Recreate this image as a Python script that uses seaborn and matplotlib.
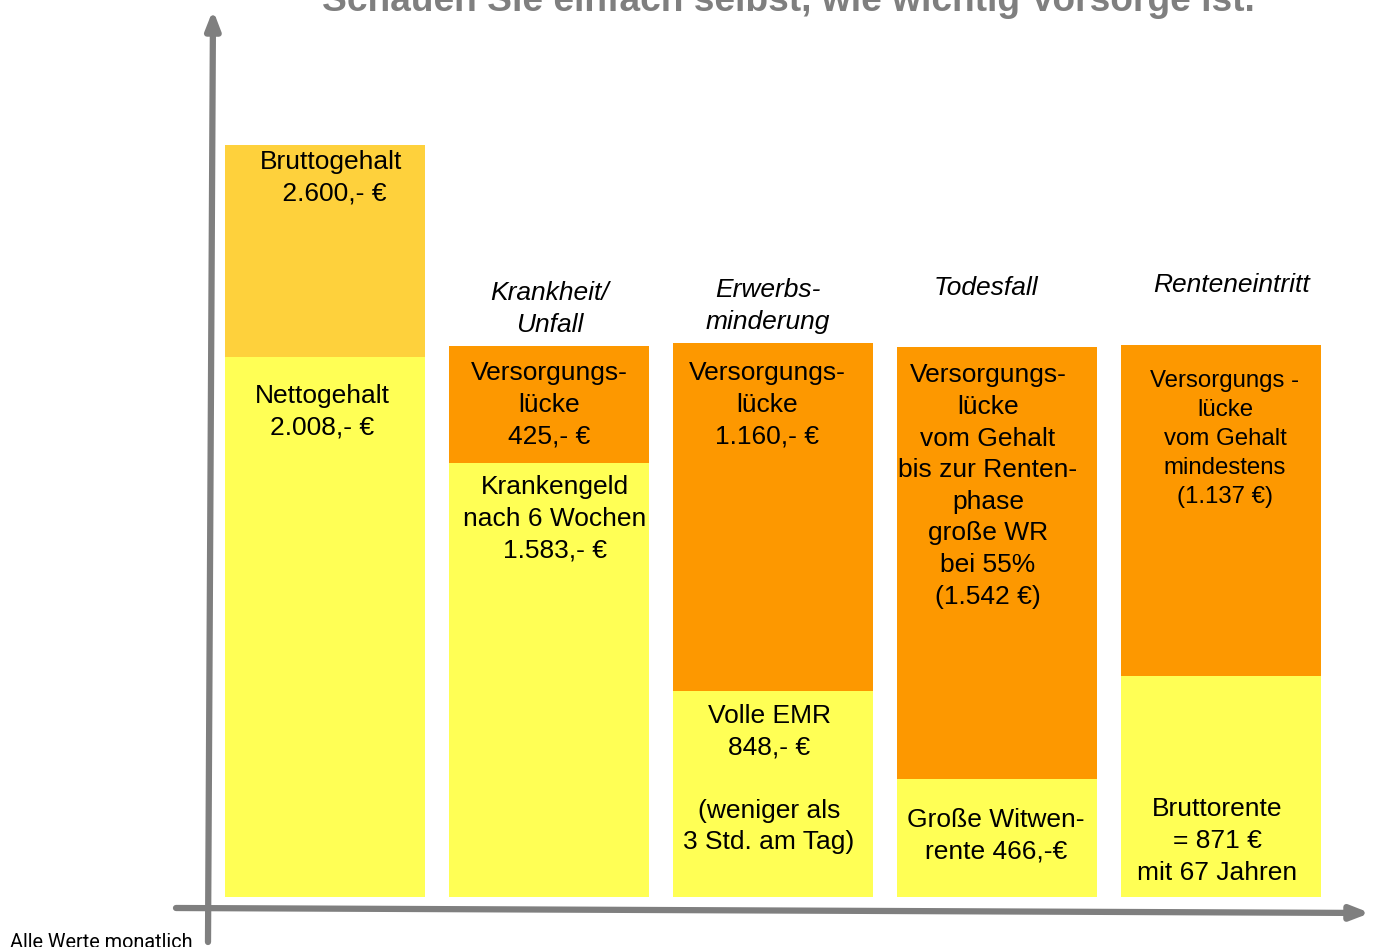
import matplotlib
matplotlib.use("Agg")
import matplotlib.pyplot as plt
import seaborn as sns
import pandas as pd

# ---------------- data (heights, in chart units) ----------------
categories = ["Gehalt", "Krankheit/Unfall", "Erwerbsminderung", "Todesfall", "Renteneintritt"]
headers = ["", "Krankheit/\nUnfall", "Erwerbs-\nminderung", "Todesfall", "Renteneintritt"]
base_heights = [540, 434, 206, 118, 221]      # yellow part (Leistung / Netto)
gap_heights = [212, 117, 348, 432, 331]       # upper part (Brutto / Versorgungslücke)
upper_labels = [
    "Bruttogehalt\n 2.600,- €",
    "Versorgungs-\nlücke\n425,- €",
    "Versorgungs-\nlücke\n1.160,- €",
    "Versorgungs-\nlücke\nvom Gehalt\nbis zur Renten-\nphase\ngroße WR\nbei 55%\n(1.542 €)",
    "Versorgungs -\nlücke\nvom Gehalt\nmindestens\n(1.137 €)",
]
lower_labels = [
    "Nettogehalt\n2.008,- €",
    "Krankengeld\nnach 6 Wochen\n1.583,- €",
    "Volle EMR\n848,- €\n\n(weniger als\n3 Std. am Tag)",
    "Große Witwen-\nrente 466,-€",
    "Bruttorente\n= 871 €\nmit 67 Jahren",
]
title = "Schauen Sie einfach selbst, wie wichtig Vorsorge ist."
note = "Alle Werte monatlich"

# ---------------- styling / layout ----------------
YELLOW = "#FFFF55"
GOLD = "#FED13C"
ORANGE = "#FD9800"
GREY = "#7F7F7F"
top_colors = [GOLD, ORANGE, ORANGE, ORANGE, ORANGE]

sns.set_theme(style="white")
plt.rcParams["font.family"] = ["Liberation Sans", "DejaVu Sans"]

W, H = 1373, 947
fig = plt.figure(figsize=(W / 100, H / 100), dpi=100)
ax = fig.add_axes([0, 0, 1, 1])

px_per_cat = 223.9
x0_px = 325.4
base_px = 897.0

totals = [b + g for b, g in zip(base_heights, gap_heights)]
df = pd.DataFrame({"cat": categories, "total": totals, "base": base_heights})

sns.barplot(data=df, x="cat", y="total", hue="cat", palette=top_colors,
            order=categories, width=200 / px_per_cat, legend=False,
            saturation=1, linewidth=0, ax=ax)
sns.barplot(data=df, x="cat", y="base", color=YELLOW, order=categories,
            width=200 / px_per_cat, saturation=1, linewidth=0, ax=ax)

ax.set_xlim(-x0_px / px_per_cat, (W - x0_px) / px_per_cat)
ax.set_ylim(-(H - base_px), base_px)
ax.axis("off")

def px(xp, yp):
    """convert picture pixel position to data coords (for decorations/text)."""
    return ((xp - x0_px) / px_per_cat, base_px - yp)

# axes arrows
ax.annotate("", xy=px(213, 10), xytext=px(208, 942),
            arrowprops=dict(arrowstyle="-|>,head_length=0.9,head_width=0.35",
                            color=GREY, lw=4.5, shrinkA=0, shrinkB=0))
ax.annotate("", xy=px(1370, 913), xytext=px(176, 908),
            arrowprops=dict(arrowstyle="-|>,head_length=0.9,head_width=0.35",
                            color=GREY, lw=4.5, shrinkA=0, shrinkB=0))

fs = 19
ls = 1.4
# text positions (pixel centers of text blocks)
upper_pos = [(331, 178), (549, 405), (767, 405), (988, 486), (1225, 439)]
lower_pos = [(322, 412), (555, 519), (769, 779), (996, 836), (1217, 841)]
upper_fs = [fs, fs, fs, fs, 17.3]
lower_fs = [fs, fs, fs, fs, fs]
header_pos = [(0, 0), (550, 309), (768, 306), (986, 288), (1232, 285)]

for i in range(len(categories)):
    ax.text(*px(*upper_pos[i]), upper_labels[i], ha="center", va="center",
            fontsize=upper_fs[i], linespacing=ls, color="black")
    ax.text(*px(*lower_pos[i]), lower_labels[i], ha="center", va="center",
            fontsize=lower_fs[i], linespacing=ls, color="black")
    if headers[i]:
        ax.text(*px(*header_pos[i]), headers[i], ha="center", va="center",
                fontsize=fs, linespacing=ls, style="italic", color="black")

ax.text(*px(788, 11), title, ha="center", va="baseline", fontsize=26.7,
        fontweight="bold", color=GREY)
ax.text(*px(10, 942), note, ha="left", va="center", fontsize=14.3,
        color="black", family=["Liberation Sans Narrow", "Roboto", "DejaVu Sans"])

fig.savefig("out.png", dpi=100, facecolor="white")
